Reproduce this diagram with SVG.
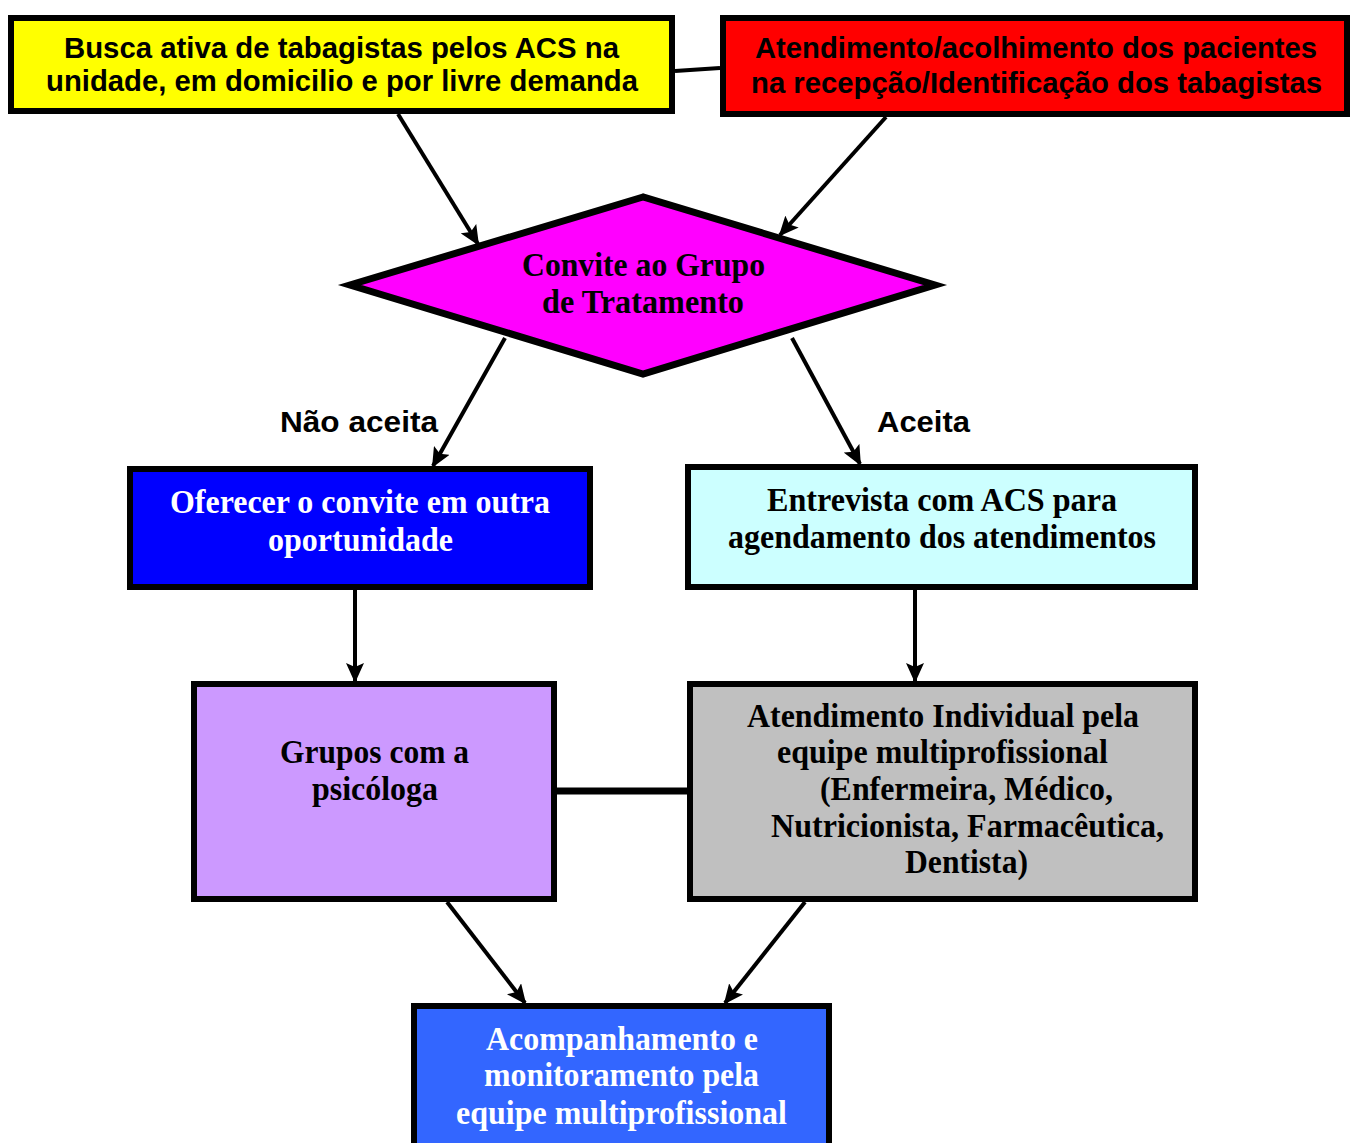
<svg xmlns="http://www.w3.org/2000/svg" width="1353" height="1143" viewBox="0 0 1353 1143">
<defs>
<marker id="ah" markerUnits="userSpaceOnUse" markerWidth="20" markerHeight="18" refX="18" refY="9" orient="auto">
<path d="M0,0 L20,9 L0,18 L4,9 z" fill="#000"/>
</marker>
<style>
.box{stroke:#000;stroke-width:6}
.sans{font-family:"Liberation Sans",Arial,sans-serif;font-weight:bold;font-size:29px;fill:#000}
.serif{font-family:"Liberation Serif","Times New Roman",serif;font-weight:bold;font-size:33px}
.c{text-anchor:middle}
.w{fill:#fff}
.k{fill:#000}
.con{stroke:#000;stroke-width:4;fill:none}
</style>
</defs>
<rect width="1353" height="1143" fill="#fff"/>
<g id="connectors">
<line class="con" x1="675" y1="71" x2="720" y2="68"/>
<line class="con" x1="398" y1="114" x2="478" y2="244" marker-end="url(#ah)"/>
<line class="con" x1="886" y1="117" x2="780" y2="235" marker-end="url(#ah)"/>
<line class="con" x1="505" y1="338" x2="433" y2="466" marker-end="url(#ah)"/>
<line class="con" x1="792" y1="338" x2="860" y2="464" marker-end="url(#ah)"/>
<line class="con" x1="355" y1="590" x2="355" y2="681" marker-end="url(#ah)"/>
<line class="con" x1="915" y1="590" x2="915" y2="681" marker-end="url(#ah)"/>
<line class="con" x1="447" y1="902" x2="525" y2="1003" marker-end="url(#ah)"/>
<line class="con" x1="805" y1="902" x2="725" y2="1003" marker-end="url(#ah)"/>
<line stroke="#000" stroke-width="7" x1="557" y1="791" x2="687" y2="791"/>
<text class="sans" x="280" y="432" textLength="158" lengthAdjust="spacingAndGlyphs">Não aceita</text>
<text class="sans" x="877" y="432" textLength="93" lengthAdjust="spacingAndGlyphs">Aceita</text>
</g>
<g id="busca">
<rect class="box" x="11" y="18" width="661" height="93" fill="#ffff00"/>
<text class="sans" x="64" y="58" textLength="555" lengthAdjust="spacingAndGlyphs">Busca ativa de tabagistas pelos ACS na</text>
<text class="sans" x="46" y="91" textLength="592" lengthAdjust="spacingAndGlyphs">unidade, em domicilio e por livre demanda</text>
</g>
<g id="atendimento">
<rect class="box" x="723" y="18" width="624" height="96" fill="#ff0000"/>
<text class="sans" x="755" y="58" textLength="562" lengthAdjust="spacingAndGlyphs">Atendimento/acolhimento dos pacientes</text>
<text class="sans" x="751" y="93" textLength="571" lengthAdjust="spacingAndGlyphs">na recepção/Identificação dos tabagistas</text>
</g>
<g id="convite">
<polygon points="643,197 350,285 643,374 935,285" fill="#ff00ff" stroke="#000" stroke-width="7" stroke-linejoin="miter"/>
<text class="serif k" x="522" y="276" textLength="243" lengthAdjust="spacingAndGlyphs">Convite ao Grupo</text>
<text class="serif k" x="542" y="313" textLength="202" lengthAdjust="spacingAndGlyphs">de Tratamento</text>
</g>
<g id="oferecer">
<rect class="box" x="130" y="469" width="460" height="118" fill="#0000ff"/>
<text class="serif w" x="170" y="513" textLength="380" lengthAdjust="spacingAndGlyphs">Oferecer o convite em outra</text>
<text class="serif w" x="268" y="551" textLength="185" lengthAdjust="spacingAndGlyphs">oportunidade</text>
</g>
<g id="entrevista">
<rect class="box" x="688" y="467" width="507" height="120" fill="#ccffff"/>
<text class="serif k" x="767" y="511" textLength="350" lengthAdjust="spacingAndGlyphs">Entrevista com ACS para</text>
<text class="serif k" x="728" y="548" textLength="428" lengthAdjust="spacingAndGlyphs">agendamento dos atendimentos</text>
</g>
<g id="grupos">
<rect class="box" x="194" y="684" width="360" height="215" fill="#cc99ff"/>
<text class="serif k" x="280" y="763" textLength="189" lengthAdjust="spacingAndGlyphs">Grupos com a</text>
<text class="serif k" x="312" y="800" textLength="126" lengthAdjust="spacingAndGlyphs">psicóloga</text>
</g>
<g id="individual">
<rect class="box" x="690" y="684" width="505" height="215" fill="#c0c0c0"/>
<text class="serif k" x="747" y="727" textLength="392" lengthAdjust="spacingAndGlyphs">Atendimento Individual pela</text>
<text class="serif k" x="777" y="763" textLength="331" lengthAdjust="spacingAndGlyphs">equipe multiprofissional</text>
<text class="serif k" x="820" y="800" textLength="293" lengthAdjust="spacingAndGlyphs">(Enfermeira, Médico,</text>
<text class="serif k" x="771" y="837" textLength="393" lengthAdjust="spacingAndGlyphs">Nutricionista, Farmacêutica,</text>
<text class="serif k" x="905" y="873" textLength="123" lengthAdjust="spacingAndGlyphs">Dentista)</text>
</g>
<g id="acompanhamento">
<rect class="box" x="414" y="1006" width="415" height="150" fill="#3366ff"/>
<text class="serif w" x="486" y="1050" textLength="272" lengthAdjust="spacingAndGlyphs">Acompanhamento e</text>
<text class="serif w" x="484" y="1086" textLength="275" lengthAdjust="spacingAndGlyphs">monitoramento pela</text>
<text class="serif w" x="456" y="1124" textLength="331" lengthAdjust="spacingAndGlyphs">equipe multiprofissional</text>
</g>
</svg>
